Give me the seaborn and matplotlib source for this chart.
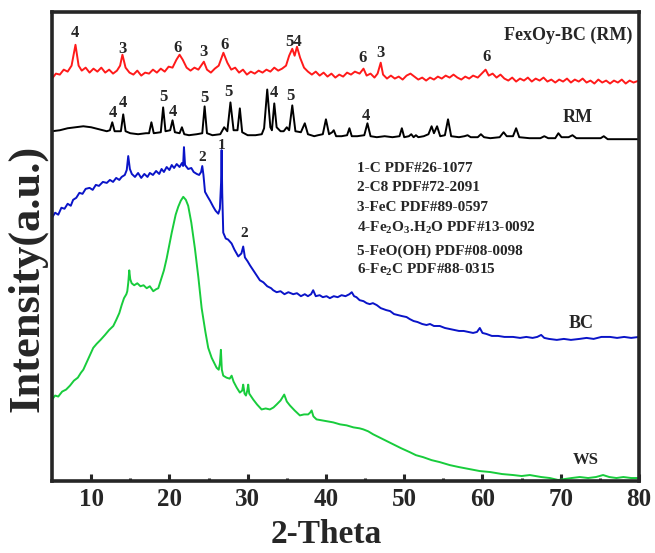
import matplotlib
matplotlib.use("Agg")
import matplotlib.pyplot as plt
import seaborn as sns
import pandas as pd

# XRD patterns: (2-theta, intensity a.u.)
fexoy_bc = [
    (5.0, 405), (5.5, 410), (6.0, 409), (6.5, 414), (7.0, 412), (7.5, 418), (8.0, 439),
    (8.4, 418), (8.8, 413), (9.3, 416), (9.8, 411), (10.3, 415), (10.8, 412), (11.3, 416),
    (11.8, 411), (12.3, 414), (12.8, 410), (13.3, 413), (13.7, 418), (14.0, 429), (14.4, 416),
    (14.9, 411), (15.4, 409), (15.9, 413), (16.4, 408), (16.9, 411), (17.4, 410), (17.9, 414),
    (18.4, 411), (18.9, 415), (19.4, 412), (19.9, 417), (20.4, 416), (20.9, 424), (21.3, 429),
    (21.7, 424), (22.2, 416), (22.7, 413), (23.2, 416), (23.7, 414), (24.4, 422), (24.8, 414),
    (25.3, 411), (25.8, 415), (26.3, 418), (26.9, 431), (27.4, 421), (27.9, 414), (28.4, 416),
    (28.9, 411), (29.4, 414), (29.9, 409), (30.4, 412), (30.9, 410), (31.4, 413), (31.9, 411),
    (32.4, 414), (32.9, 412), (33.4, 416), (33.9, 413), (34.4, 415), (34.9, 418), (35.3, 428),
    (35.7, 435), (36.0, 428), (36.3, 437), (36.7, 426), (37.2, 416), (37.7, 412), (38.2, 409),
    (38.7, 412), (39.2, 408), (39.7, 411), (40.2, 407), (40.7, 410), (41.2, 406), (41.7, 409),
    (42.2, 407), (42.7, 411), (43.2, 409), (43.7, 412), (44.3, 410), (44.8, 415), (45.2, 408),
    (45.7, 410), (46.2, 406), (46.6, 410), (47.0, 421), (47.3, 409), (47.8, 405), (48.3, 408),
    (48.8, 405), (49.3, 407), (49.8, 404), (50.3, 408), (50.8, 410), (51.3, 407), (51.8, 404),
    (52.3, 406), (52.8, 403), (53.3, 406), (53.8, 404), (54.3, 407), (54.8, 405), (55.3, 408),
    (55.8, 406), (56.3, 409), (56.8, 406), (57.3, 404), (57.8, 407), (58.3, 405), (58.8, 408),
    (59.4, 406), (59.9, 410), (60.4, 414), (60.8, 408), (61.3, 410), (61.8, 406), (62.3, 409),
    (62.8, 405), (63.3, 403), (63.8, 406), (64.3, 402), (64.8, 405), (65.3, 403), (65.8, 406),
    (66.3, 402), (66.8, 405), (67.3, 403), (67.8, 406), (68.3, 402), (68.8, 404), (69.3, 401),
    (69.8, 404), (70.3, 402), (70.8, 405), (71.3, 401), (71.8, 404), (72.3, 402), (72.8, 405),
    (73.3, 401), (73.8, 403), (74.3, 400), (74.8, 404), (75.3, 401), (75.8, 403), (76.3, 400),
    (76.8, 403), (77.3, 401), (77.8, 404), (78.3, 400), (78.8, 403), (79.3, 401), (80.0, 403),
]

rm = [
    (5.0, 352), (6.0, 353), (7.0, 355), (8.0, 356), (9.0, 357), (10.0, 356), (11.0, 354),
    (12.0, 352), (12.4, 353), (12.7, 361), (13.0, 352), (13.8, 352), (14.1, 369), (14.4, 352),
    (15.0, 350), (16.0, 349), (17.0, 350), (17.4, 350), (17.7, 361), (18.0, 350), (18.9, 351),
    (19.2, 376), (19.5, 352), (20.1, 353), (20.4, 363), (20.7, 351), (21.3, 350), (21.6, 356),
    (21.9, 349), (22.5, 348), (23.5, 349), (24.2, 350), (24.5, 377), (24.8, 350), (25.5, 348),
    (26.5, 349), (27.0, 356), (27.4, 352), (27.8, 381), (28.2, 353), (28.7, 353), (29.0, 375),
    (29.3, 351), (30.0, 348), (31.0, 348), (31.8, 349), (32.1, 355), (32.5, 394), (32.9, 356),
    (33.1, 353), (33.4, 380), (33.7, 356), (34.2, 352), (34.6, 352), (35.0, 356), (35.3, 353),
    (35.7, 378), (36.1, 352), (36.8, 351), (37.3, 360), (37.7, 349), (38.5, 347), (39.0, 348),
    (39.6, 349), (40.0, 364), (40.4, 349), (40.8, 351), (41.0, 353), (41.3, 347), (42.0, 347),
    (42.7, 348), (43.0, 355), (43.3, 347), (44.0, 347), (44.9, 348), (45.3, 360), (45.7, 347),
    (46.5, 346), (47.5, 347), (48.5, 346), (49.4, 347), (49.7, 355), (50.0, 346), (50.6, 347),
    (50.9, 349), (51.2, 346), (51.5, 348), (51.8, 346), (52.5, 347), (53.1, 349), (53.5, 357),
    (53.8, 350), (54.2, 357), (54.6, 347), (55.2, 348), (55.6, 364), (56.0, 347), (57.0, 346),
    (57.7, 347), (58.1, 348), (58.5, 346), (59.4, 346), (59.8, 349), (60.2, 346), (61.0, 345),
    (62.2, 346), (62.7, 351), (63.1, 347), (63.9, 347), (64.3, 355), (64.7, 346), (66.0, 345),
    (67.4, 345), (67.9, 347), (68.4, 345), (69.3, 345), (69.7, 350), (70.1, 346), (71.0, 346),
    (71.5, 348), (72.0, 345), (73.5, 345), (75.1, 345), (75.5, 347), (76.0, 344), (78.0, 344),
    (80.0, 344),
]

bc = [
    (5.0, 265), (5.4, 270), (5.8, 268), (6.2, 275), (6.6, 274), (7.0, 279), (7.4, 277),
    (7.7, 283), (8.1, 285), (8.5, 290), (8.9, 289), (9.3, 294), (9.8, 295), (10.2, 293),
    (10.6, 298), (11.0, 297), (11.5, 301), (12.0, 300), (12.4, 303), (12.8, 301), (13.2, 305),
    (13.6, 303), (13.9, 306), (14.3, 308), (14.55, 313), (14.74, 327), (14.95, 314), (15.2, 309),
    (15.6, 306), (16.0, 310), (16.4, 305), (16.8, 309), (17.2, 306), (17.5, 310), (17.9, 308),
    (18.3, 312), (18.7, 309), (19.0, 314), (19.3, 311), (19.65, 316), (20.0, 313), (20.3, 318),
    (20.6, 315), (20.93, 319), (21.3, 316), (21.6, 320), (21.75, 317), (21.86, 336), (22.0, 318),
    (22.4, 314), (22.8, 315), (23.1, 311), (23.5, 309), (23.8, 308), (24.05, 311), (24.2, 317),
    (24.35, 308), (24.55, 291), (24.9, 286), (25.2, 282), (25.6, 276), (25.9, 272), (26.25, 269),
    (26.45, 274), (26.6, 300), (26.67, 333), (26.75, 290), (26.88, 250), (27.2, 244), (27.5, 243),
    (27.95, 239), (28.3, 233), (28.8, 226), (29.2, 229), (29.43, 236), (29.65, 225), (30.0, 221),
    (30.3, 217), (30.8, 211), (31.2, 206), (31.56, 202), (32.0, 200), (32.5, 196), (33.0, 194),
    (33.26, 192), (33.7, 190), (34.2, 191), (34.7, 188), (35.2, 190), (35.82, 188), (36.3, 189),
    (36.8, 186), (37.3, 188), (37.7, 186), (38.1, 188), (38.37, 192), (38.7, 186), (39.2, 187),
    (39.6, 185), (40.08, 186), (40.5, 184), (41.0, 186), (41.5, 185), (42.0, 187), (42.5, 186),
    (43.0, 188), (43.3, 190), (43.6, 186), (43.9, 185), (44.3, 182), (44.8, 181), (45.2, 179),
    (45.6, 178), (46.0, 179), (46.5, 177), (47.0, 174), (47.7, 172), (48.2, 171), (48.7, 168),
    (49.2, 167), (49.7, 166), (50.3, 165), (50.7, 163), (51.2, 161), (51.7, 160), (52.3, 158),
    (52.85, 157), (53.3, 158), (53.8, 156), (54.55, 156), (55.2, 154), (55.8, 153), (56.4, 152),
    (57.0, 151), (57.6, 151), (58.2, 150), (58.8, 149), (59.3, 150), (59.66, 154), (60.0, 149),
    (60.5, 148), (61.2, 146), (62.0, 146), (62.8, 145), (63.9, 145), (64.8, 144), (65.6, 145),
    (66.4, 144), (67.0, 145), (67.5, 147), (67.9, 144), (68.5, 143), (69.5, 142), (70.4, 143),
    (71.3, 142), (72.4, 143), (73.3, 144), (74.2, 143), (75.2, 145), (76.3, 145), (77.2, 144),
    (78.1, 145), (79.0, 144), (80.0, 145),
]

ws = [
    (5.0, 82), (5.4, 86), (5.8, 85), (6.3, 90), (6.8, 92), (7.3, 96), (7.8, 101), (8.3, 104),
    (8.7, 109), (9.0, 112), (9.4, 119), (9.8, 126), (10.27, 134), (10.7, 138), (11.2, 142),
    (11.77, 147), (12.3, 152), (12.83, 156), (13.2, 162), (13.6, 169), (13.9, 177), (14.2, 184),
    (14.5, 188), (14.62, 191), (14.75, 200), (14.87, 212), (15.0, 203), (15.18, 199), (15.5, 197),
    (15.9, 199), (16.3, 196), (16.7, 197), (17.1, 194), (17.5, 196), (17.94, 191), (18.3, 193),
    (18.58, 194), (18.9, 202), (19.3, 212), (19.65, 224), (20.0, 238), (20.3, 250), (20.49, 257),
    (20.8, 268), (21.13, 276), (21.45, 282), (21.77, 286), (22.1, 283), (22.4, 277), (22.8, 260),
    (23.26, 234), (23.7, 205), (24.12, 174), (24.32, 164), (24.6, 150), (24.96, 134), (25.4, 124),
    (26.03, 114), (26.3, 112), (26.45, 118), (26.58, 132), (26.7, 112), (26.88, 106), (27.3, 104),
    (27.7, 103), (27.95, 106), (28.2, 100), (28.6, 94), (29.0, 89), (29.3, 91), (29.43, 97),
    (29.6, 88), (29.78, 86), (29.95, 91), (30.07, 97), (30.2, 88), (30.71, 82), (31.2, 77),
    (31.78, 72), (32.3, 73), (32.84, 72), (33.3, 74), (33.7, 77), (34.2, 81), (34.67, 87),
    (35.0, 80), (35.4, 76), (36.0, 71), (36.67, 66), (37.2, 67), (37.73, 67), (38.0, 69),
    (38.17, 71), (38.4, 65), (38.8, 62), (39.5, 61), (40.2, 60), (40.93, 59), (41.8, 57),
    (42.64, 56), (43.5, 54), (44.3, 53), (44.76, 52), (45.4, 50), (46.03, 47), (46.8, 44),
    (47.6, 41), (48.59, 37), (49.6, 33), (50.72, 29), (51.5, 26), (52.42, 24), (53.5, 21),
    (54.55, 19), (55.83, 16), (57.0, 14), (58.3, 12), (59.66, 10), (61.0, 9), (62.5, 7),
    (63.92, 6), (65.0, 5), (66.05, 6), (67.5, 4), (68.6, 3), (69.67, 1), (70.5, 2), (71.4, 3),
    (72.43, 4), (73.5, 3), (74.5, 4), (75.41, 6), (76.2, 4), (77.12, 3), (78.0, 4), (79.0, 3),
    (80.0, 3),
]

samples = ["FexOy-BC (RM)", "RM", "BC", "WS"]
colors = ["#ff1a1a", "#000000", "#0a14c8", "#18cc3c"]

# peak markers: label, 2-theta, height
red_peaks = [("4", 7.9, 451), ("3", 14.0, 435), ("6", 21.1, 436), ("3", 24.3, 432),
             ("6", 27.1, 439), ("54", 35.9, 442), ("6", 44.7, 426), ("3", 47.0, 431),
             ("6", 60.5, 427)]
black_peaks = [("4", 12.8, 370), ("4", 14.1, 380), ("5", 19.3, 386), ("4", 20.4, 371),
               ("5", 24.5, 385), ("5", 27.6, 391), ("4", 33.4, 390), ("5", 35.5, 387),
               ("4", 45.1, 367)]
blue_peaks = [("2", 24.2, 326), ("1", 26.7, 338), ("2", 29.6, 249)]

phase_lines = [
    "1-C PDF#26-1077",
    "2-C8 PDF#72-2091",
    "3-FeC PDF#89-0597",
    "4-Fe$_2$O$_3$.H$_2$O PDF#13-0092",
    "5-FeO(OH) PDF#08-0098",
    "6-Fe$_2$C PDF#88-0315",
]
phase_y = [314, 295, 275, 255, 231, 212]

frames = []
for name, pts in zip(samples, [fexoy_bc, rm, bc, ws]):
    d = pd.DataFrame(pts, columns=["theta", "intensity"])
    d["sample"] = name
    frames.append(d)
df = pd.concat(frames, ignore_index=True)

sns.set_style("ticks")
plt.rcParams["font.family"] = ["Liberation Serif", "DejaVu Serif"]
plt.rcParams["font.weight"] = "bold"
plt.rcParams["mathtext.fontset"] = "custom"
plt.rcParams["mathtext.rm"] = "Liberation Serif:bold"
plt.rcParams["mathtext.it"] = "Liberation Serif:bold"
plt.rcParams["mathtext.bf"] = "Liberation Serif:bold"

fig = plt.figure(figsize=(6.55, 5.53), dpi=100)
ax = fig.add_axes([52 / 655, 72 / 553, 587 / 655, 469 / 553])

sns.lineplot(data=df, x="theta", y="intensity", hue="sample", hue_order=samples,
             palette=colors, estimator=None, linewidth=1.4, legend=False, ax=ax)

ax.set_xlim(5, 80)
ax.set_ylim(0, 472)
ax.set_xticks(range(10, 81, 10))
ax.set_xticks(range(15, 80, 10), minor=True)
ax.set_yticks([])
ax.tick_params(axis="x", which="major", direction="in", length=5, width=2.2,
               labelsize=18, pad=5)
ax.tick_params(axis="x", which="minor", direction="in", length=2.5, width=2.2)
for lab in ax.get_xticklabels():
    lab.set_fontweight("bold")
for sp in ax.spines.values():
    sp.set_linewidth(2.6)
    sp.set_visible(True)

ax.set_xlabel("2-Theta", fontsize=24, fontweight="bold", va="center")
ax.xaxis.set_label_coords(0.468, -0.114)
ax.set_ylabel("Intensity(a.u.)", fontsize=32, fontweight="bold", va="center")
ax.yaxis.set_label_coords(-0.043, 0.433)

txt = dict(fontweight="bold", ha="center", va="center")
for peaks, fs in [(red_peaks, 12), (black_peaks, 12), (blue_peaks, 11)]:
    for lab, x, y in peaks:
        ax.text(x, y, lab, fontsize=fs, **txt)

ax.text(79.1, 449, "FexOy-BC (RM)", fontsize=13, fontweight="bold", ha="right", va="center")
ax.text(72.2, 366, "RM", fontsize=13, **txt)
ax.text(72.6, 159, "BC", fontsize=13, **txt)
ax.text(73.2, 21, "WS", fontsize=12, **txt)

for line, y in zip(phase_lines, phase_y):
    ax.text(44.0, y, line, fontsize=11, fontweight="bold", ha="left", va="center")

fig.savefig("out.png", dpi=100)
